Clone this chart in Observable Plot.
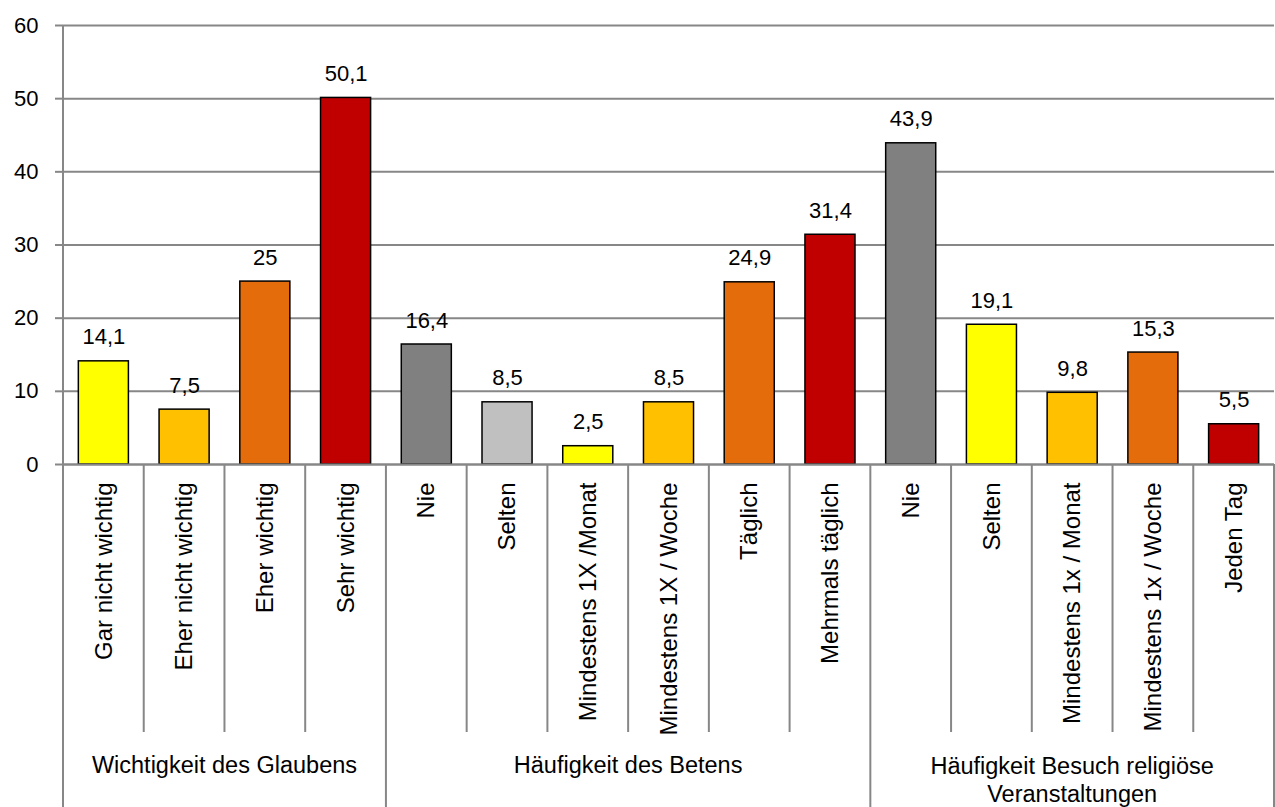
<!DOCTYPE html>
<html><head><meta charset="utf-8">
<script src="https://cdn.jsdelivr.net/npm/d3@7"></script>
<script src="https://cdn.jsdelivr.net/npm/@observablehq/plot@0.6"></script>
<style>html,body{margin:0;padding:0;background:#fff} svg{display:block}</style>
</head><body><div id="chart"></div>
<script>
const categories = ["Gar nicht wichtig","Eher nicht wichtig","Eher wichtig","Sehr wichtig",
  "Nie","Selten","Mindestens 1X /Monat","Mindestens 1X / Woche","Täglich","Mehrmals täglich",
  "Nie","Selten","Mindestens 1x / Monat","Mindestens 1x / Woche","Jeden Tag"];
const values = [14.1,7.5,25,50.1,16.4,8.5,2.5,8.5,24.9,31.4,43.9,19.1,9.8,15.3,5.5];
const barColors = ["#FFFF00","#FFC000","#E46C0A","#C00000",
  "#808080","#C0C0C0","#FFFF00","#FFC000","#E46C0A","#C00000",
  "#808080","#FFFF00","#FFC000","#E46C0A","#C00000"];
const groupOf = [0,0,0,0,1,1,1,1,1,1,2,2,2,2,2];
const groupNames = ["Wichtigkeit des Glaubens","Häufigkeit des Betens","Häufigkeit Besuch religiöse\nVeranstaltungen"];
const yTicks = [0,10,20,30,40,50,60];

const FONT = "'Liberation Sans', Arial, sans-serif";
const GRID = "#878787";
const data = categories.map((c,i)=>({i, label:c, value:values[i], color:barColors[i], group:groupOf[i]}));
const fmt = v => String(v).replace(".", ",");

const chart = Plot.plot({
  width: 1275, height: 807,
  marginTop: 25, marginBottom: 343, marginLeft: 63, marginRight: 1,
  style: {fontFamily: FONT, background: "#fff"},
  x: {domain: data.map(d=>d.i), paddingInner: 0.38, paddingOuter: 0.19, round: false, axis: null},
  y: {domain: [0,60], axis: null},
  marks: [
    Plot.gridY(yTicks, {stroke: GRID, strokeOpacity: 1, strokeWidth: 2}),
    Plot.axisY(yTicks, {tickSize: 8, tickPadding: 17, stroke: GRID, strokeWidth: 2, fill: "#000", fontSize: 22, label: null}),
    Plot.barY(data, {x: "i", y: "value", fill: "color", stroke: "#000", strokeWidth: 1.5}),
    Plot.ruleY([0], {stroke: GRID, strokeWidth: 2}),
    Plot.text(data, {x: "i", y: "value", text: d=>fmt(d.value), lineAnchor: "bottom", dy: -17, fontSize: 22, fill: "#000"}),
    Plot.text(data, {x: "i", text: "label", frameAnchor: "bottom", dy: 18, rotate: -90, textAnchor: "end", lineAnchor: "middle", fontSize: 24, fill: "#000"})
  ]
});
document.getElementById("chart").appendChild(chart);

// separators and group labels, positioned from Plot's own scales
const xs = chart.scale("x"), ys = chart.scale("y");
const gap = xs.step - xs.bandwidth;
const left = i => xs.apply(i) - gap/2;
const bounds = d3.range(categories.length + 1).map(k => k < categories.length ? left(k) : left(k-1) + xs.step);
const y0 = ys.apply(0), yTop = ys.apply(60);
const svg = d3.select(chart);
const g = svg.append("g").attr("stroke", GRID).attr("stroke-width", 2);
const groupStarts = [0];
for (let k = 1; k < categories.length; k++) if (groupOf[k] !== groupOf[k-1]) groupStarts.push(k);
const groupBounds = new Set([...groupStarts, categories.length]);
bounds.forEach((bx, k) => {
  const isGroup = groupBounds.has(k);
  g.append("line").attr("x1", bx).attr("x2", bx)
    .attr("y1", k === 0 ? yTop : y0)
    .attr("y2", isGroup ? 807 : y0 + 268);
});
const tg = svg.append("g").attr("font-family", FONT).attr("font-size", 23.5).attr("fill", "#000").attr("text-anchor", "middle");
groupNames.forEach((name, gi) => {
  const idx = d3.range(categories.length).filter(k => groupOf[k] === gi);
  const cx = (bounds[idx[0]] + bounds[idx[idx.length-1] + 1]) / 2;
  const lines = name.split("\n");
  const t = tg.append("text").attr("x", cx).attr("y", lines.length > 1 ? 774 : 773);
  lines.forEach((ln, li) => t.append("tspan").attr("x", cx).attr("dy", li === 0 ? 0 : 28).text(ln));
});
</script>
</body></html>
